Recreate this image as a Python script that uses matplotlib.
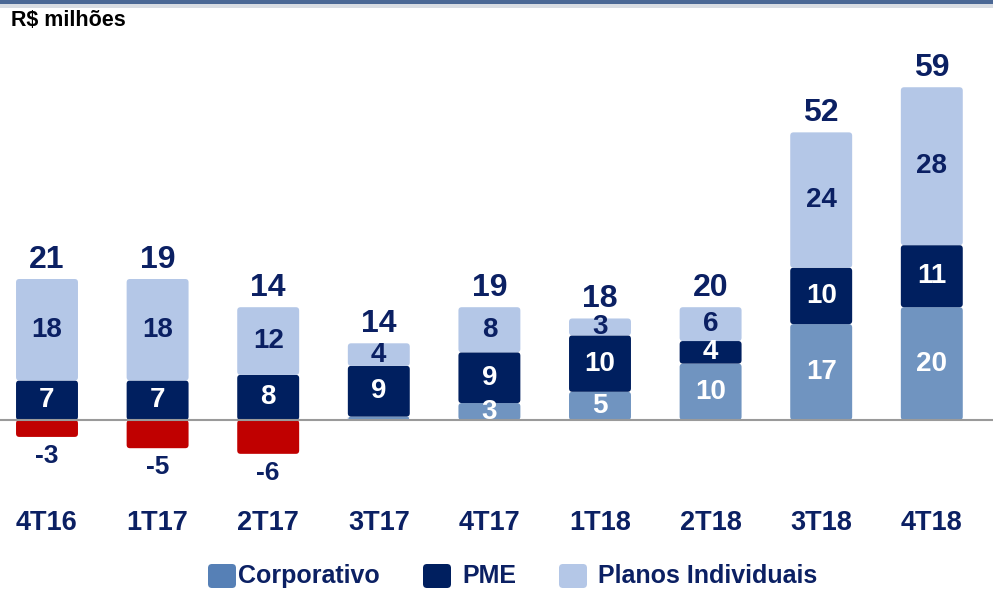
import numpy as np
import matplotlib
matplotlib.use('Agg')
import matplotlib.pyplot as plt
from matplotlib.patches import FancyBboxPatch, Rectangle

plt.rcParams['font.family'] = ['Liberation Sans', 'DejaVu Sans']

# dados (R$ milhões)
categorias = ['4T16', '1T17', '2T17', '3T17', '4T17', '1T18', '2T18', '3T18', '4T18']
corporativo = [-3, -5, -6, 0.6, 3, 5, 10, 17, 20]
pme = [7, 7, 8, 9, 9, 10, 4, 10, 11]
planos = [18, 18, 12, 4, 8, 3, 6, 24, 28]
totais = [21, 19, 14, 14, 19, 18, 20, 52, 59]

c_corp = '#7094c0'
c_corp_leg = '#5680b6'
c_pme = '#001f5f'
c_planos = '#b4c7e7'
c_neg = '#c00000'
c_txt = '#0b2063'

W, H = 993, 591
fig = plt.figure(figsize=(W / 100, H / 100), dpi=100)

# eixo: baseline em y=420px, 5.64 px por unidade, barras a cada 110.6 px
px_unit_y = 5.64
px_unit_x = 110.6
ax_top, ax_bot = 60, 470
ax = fig.add_axes([0, (H - ax_bot) / H, 1, (ax_bot - ax_top) / H])
ax.set_xlim(-47 / px_unit_x, (W - 47) / px_unit_x)
ax.set_ylim(-(ax_bot - 420) / px_unit_y, (420 - ax_top) / px_unit_y)
for s in ax.spines.values():
    s.set_visible(False)
ax.set_yticks([])

x = np.arange(len(categorias))
largura = 0.56
corp = np.array(corporativo, dtype=float)
base_pme = np.where(corp > 0, corp, 0)
base_planos = base_pme + np.array(pme)

aspect = px_unit_x / px_unit_y


def rounded(b, color):
    xb, yb = b.get_x(), b.get_y()
    w, h = b.get_width(), b.get_height()
    if h < 0:
        yb, h = yb + h, -h
    b.remove()
    p = FancyBboxPatch((xb, yb), w, h,
                       boxstyle='round,pad=0,rounding_size=0.03',
                       mutation_aspect=aspect, fc=color, ec='none', zorder=2)
    ax.add_patch(p)


cores_corp = [c_neg if v < 0 else c_corp for v in corporativo]
b1 = ax.bar(x, corp, largura, color=cores_corp)
b2 = ax.bar(x, pme, largura, bottom=base_pme, color=c_pme)
b3 = ax.bar(x, planos, largura, bottom=base_planos, color=c_planos)
for bars, cores in ((b1, cores_corp), (b2, [c_pme] * 9), (b3, [c_planos] * 9)):
    for b, c in zip(bars, cores):
        rounded(b, c)

ax.axhline(0, color='#9a9a9a', lw=1.5, zorder=3)

fs_in = 20
for i in range(len(x)):
    v = corporativo[i]
    if v < 0:
        ax.annotate(f'{v:g}', (x[i], v), xytext=(0, -5), textcoords='offset points',
                    ha='center', va='top', fontsize=fs_in - 1, fontweight='bold', color=c_txt)
    elif v >= 1:
        ax.text(x[i], v / 2, f'{v:g}', ha='center', va='center', fontsize=fs_in,
                fontweight='bold', color='white', zorder=4)
    ax.text(x[i], base_pme[i] + pme[i] / 2, str(pme[i]), ha='center', va='center',
            fontsize=fs_in, fontweight='bold', color='white', zorder=4)
    ax.text(x[i], base_planos[i] + planos[i] / 2, str(planos[i]), ha='center', va='center',
            fontsize=fs_in, fontweight='bold', color=c_txt, zorder=4)
    ax.annotate(str(totais[i]), (x[i], base_planos[i] + planos[i]), xytext=(0, 3),
                textcoords='offset points', ha='center', va='bottom', fontsize=23,
                fontweight='bold', color=c_txt)

ax.set_xticks(x)
ax.set_xticklabels(categorias, fontsize=19.5, fontweight='bold', color=c_txt)
ax.tick_params(axis='x', length=0, pad=29)

# faixa superior
fig.add_artist(Rectangle((0, 1 - 4 / H), 1, 4 / H, transform=fig.transFigure,
                         fc='#4b6895', ec='none'))
fig.add_artist(Rectangle((0, 1 - 8 / H), 1, 4 / H, transform=fig.transFigure,
                         fc='#d9dde3', ec='none'))
fig.text(11 / W, 1 - 20 / H, 'R$ milhões', ha='left', va='center', fontsize=15.5,
         fontweight='bold', color='black')

# legenda
leg = [('Corporativo', c_corp_leg, 208, 238), ('PME', c_pme, 423, 462),
       ('Planos Individuais', c_planos, 559, 598)]
yc = 576
for nome, cor, bx, tx in leg:
    fig.add_artist(FancyBboxPatch((bx / W, (H - yc - 12) / H), 28 / W, 24 / H,
                                  boxstyle='round,pad=0,rounding_size=0.004',
                                  transform=fig.transFigure, fc=cor, ec='none',
                                  mutation_aspect=W / H))
    fig.text(tx / W, (H - yc) / H, nome, ha='left', va='center', fontsize=18,
             fontweight='bold', color=c_txt)

fig.savefig('out.png', dpi=100)
